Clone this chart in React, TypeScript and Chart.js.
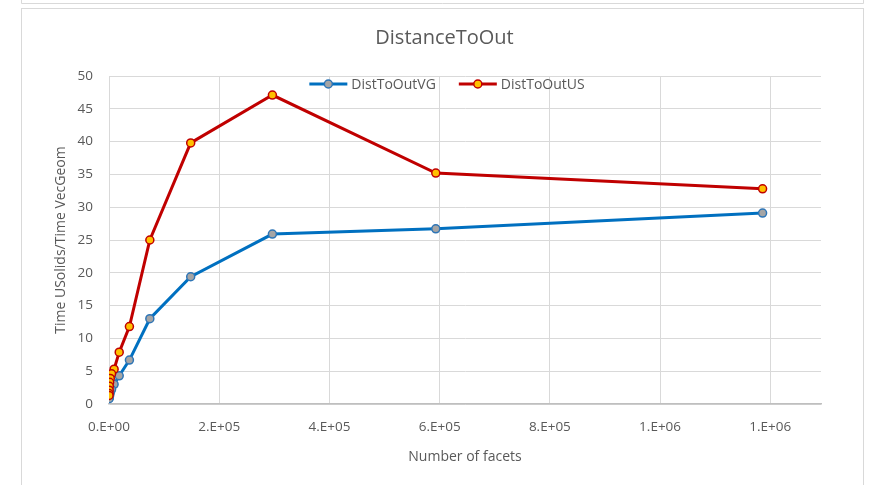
import React, { useEffect, useRef } from "react";
import { Chart, registerables } from "chart.js";

Chart.register(...registerables);

const chartTitle = "DistanceToOut";
const xTitle = "Number of facets";
const yTitle = "Time USolids/Time VecGeom";

const facets = [1186000, 593000, 296500, 148250, 74100, 37050, 18530, 9260, 4630, 2315, 1160, 580, 290, 145, 73];
const vgLabel = "DistToOutVG";
const vgValues = [29.1, 26.7, 25.9, 19.4, 13.0, 6.7, 4.3, 3.0, 2.2, 1.7, 1.3, 1.1, 1.0, 0.9, 0.8];
const usLabel = "DistToOutUS";
const usValues = [32.8, 35.2, 47.1, 39.8, 25.0, 11.8, 7.9, 5.3, 4.6, 3.9, 3.3, 2.7, 2.1, 1.6, 1.3];

const xTickValues = [0, 200000, 400000, 600000, 800000, 1000000, 1200000];
const xMin = 0;
const xMax = 1292000;
const yMin = 0;
const yMax = 50;
const yStep = 5;

const TEXT = "#595959";
const GRID = "#d9d9d9";
const FONT = "'Open Sans', 'DejaVu Sans', sans-serif";

function fmtSci(v: number): string {
  if (v === 0) return "0.E+00";
  const e = Math.floor(Math.log10(Math.abs(v)) + 1e-9);
  const m = Math.round(v / Math.pow(10, e));
  return `${m}.E+${String(e).padStart(2, "0")}`;
}

const overlayPlugin = {
  id: "overlay",
  beforeDraw(chart: any) {
    const ctx = chart.ctx;
    ctx.save();
    ctx.fillStyle = "#ffffff";
    ctx.fillRect(0, 0, chart.width, chart.height);
    ctx.strokeStyle = GRID;
    ctx.lineWidth = 1;
    ctx.beginPath();
    ctx.moveTo(21.5, 0);
    ctx.lineTo(21.5, 3.5);
    ctx.lineTo(863.5, 3.5);
    ctx.lineTo(863.5, 0);
    ctx.stroke();
    ctx.strokeRect(21.5, 8.5, 842, 500);
    ctx.restore();
  },
  afterDraw(chart: any) {
    const ctx = chart.ctx;
    ctx.save();
    ctx.fillStyle = TEXT;
    ctx.font = `20px ${FONT}`;
    ctx.textAlign = "center";
    ctx.textBaseline = "middle";
    ctx.fillText(chartTitle, 444.5, 38);
    ctx.font = `14px ${FONT}`;
    const sample = 38;
    const gapText = 4;
    const gapItems = 23;
    const ds = chart.data.datasets;
    const widths = ds.map((d: any) => ctx.measureText(d.label).width);
    let total = 0;
    widths.forEach((w: number, i: number) => {
      total += sample + gapText + w + (i < widths.length - 1 ? gapItems : 0);
    });
    let x = 447 - total / 2;
    const y = 84;
    ds.forEach((d: any, i: number) => {
      ctx.strokeStyle = d.borderColor;
      ctx.lineWidth = 3;
      ctx.beginPath();
      ctx.moveTo(x, y);
      ctx.lineTo(x + sample, y);
      ctx.stroke();
      ctx.beginPath();
      ctx.arc(x + sample / 2, y, 4, 0, Math.PI * 2);
      ctx.fillStyle = d.pointBackgroundColor;
      ctx.fill();
      ctx.lineWidth = 1.5;
      ctx.strokeStyle = d.pointBorderColor;
      ctx.stroke();
      ctx.fillStyle = TEXT;
      ctx.textAlign = "left";
      ctx.textBaseline = "middle";
      ctx.fillText(d.label, x + sample + gapText, y + 1);
      x += sample + gapText + widths[i] + gapItems;
    });
    ctx.restore();
  },
};

export default function App() {
  const ref = useRef<HTMLCanvasElement>(null);

  useEffect(() => {
    if (!ref.current) return;
    Chart.defaults.font.family = FONT;
    const chart = new Chart(ref.current, {
      type: "line",
      data: {
        datasets: [
          {
            label: vgLabel,
            data: facets.map((f, i) => ({ x: f, y: vgValues[i] })),
            borderColor: "#0070C0",
            backgroundColor: "#0070C0",
            borderWidth: 3,
            pointRadius: 4,
            pointBorderWidth: 1.5,
            pointBackgroundColor: "#A5A5A5",
            pointBorderColor: "#2E75B6",
            tension: 0,
            order: 1,
          },
          {
            label: usLabel,
            data: facets.map((f, i) => ({ x: f, y: usValues[i] })),
            borderColor: "#C00000",
            backgroundColor: "#C00000",
            borderWidth: 3,
            pointRadius: 4,
            pointBorderWidth: 1.5,
            pointBackgroundColor: "#FFC000",
            pointBorderColor: "#C00000",
            tension: 0,
            order: 0,
          },
        ],
      },
      options: {
        responsive: false,
        animation: false,
        devicePixelRatio: 1,
        layout: { padding: { left: 49, right: 50, top: 76, bottom: 11 } },
        plugins: {
          legend: { display: false },
          title: { display: false },
          tooltip: { enabled: false },
        },
        scales: {
          x: {
            type: "linear",
            min: xMin,
            max: xMax,
            afterBuildTicks: (axis: any) => {
              axis.ticks = xTickValues.map((v) => ({ value: v }));
            },
            afterFit: (axis: any) => {
              axis.height = 70;
            },
            ticks: {
              color: TEXT,
              font: { size: 13.5 },
              padding: 15,
              maxRotation: 0,
              minRotation: 0,
              autoSkip: false,
              callback: (v: any) => fmtSci(Number(v)),
            },
            grid: { color: GRID, lineWidth: 1, drawTicks: false },
            border: { color: "#bfbfbf", width: 1.5 },
            title: {
              display: true,
              text: xTitle,
              color: TEXT,
              font: { size: 14 },
              padding: { top: 0, bottom: 8.6 },
            },
          },
          y: {
            type: "linear",
            min: yMin,
            max: yMax,
            afterFit: (axis: any) => {
              axis.width = 60;
            },
            ticks: {
              stepSize: yStep,
              color: TEXT,
              font: { size: 13.5 },
              padding: 16,
            },
            grid: { color: GRID, lineWidth: 1, drawTicks: false },
            border: { color: GRID, width: 1 },
            title: {
              display: true,
              text: yTitle,
              color: TEXT,
              font: { size: 14 },
              padding: { top: 3.6, bottom: 0 },
            },
          },
        },
      },
      plugins: [overlayPlugin],
    });
    return () => chart.destroy();
  }, []);

  return (
    <div style={{ position: "fixed", left: 0, top: 0, width: 871, height: 485, background: "#fff" }}>
      <canvas ref={ref} width={871} height={485} style={{ display: "block" }} />
    </div>
  );
}
